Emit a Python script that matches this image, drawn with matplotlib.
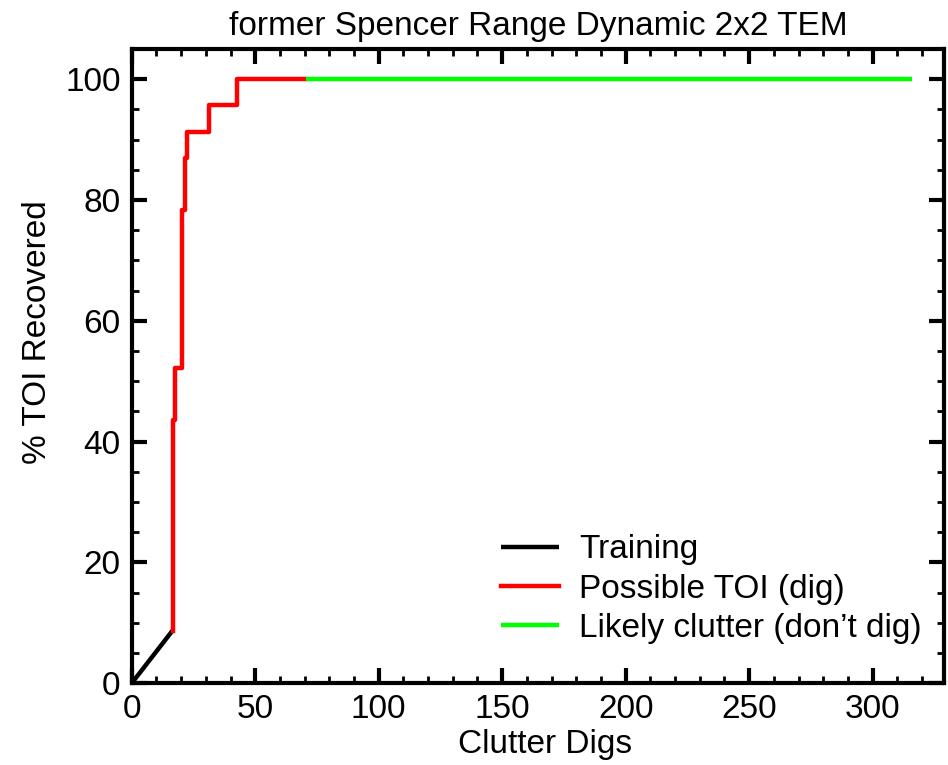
import matplotlib
matplotlib.use("Agg")
import matplotlib.pyplot as plt
from matplotlib.ticker import MultipleLocator

plt.rcParams['font.family'] = ['Liberation Sans', 'DejaVu Sans']

train_x = [0, 16.5]
train_y = [0, 8.7]
toi_x = [16.5, 16.5, 17.4, 20.4, 21.6, 22.3, 31.3, 42.7, 70.4]
toi_y = [8.7, 43.5, 52.2, 78.3, 87.0, 91.3, 95.7, 100.0, 100.0]
clutter_x = [70.4, 316]
clutter_y = [100.0, 100.0]

fig = plt.figure(figsize=(9.48, 7.65), dpi=100)
ax = fig.add_axes([0.139, 0.107, 0.857, 0.829])

ax.plot(train_x, train_y, color='black', lw=3.2, label='Training', solid_capstyle='butt')
ax.plot(toi_x, toi_y, color='#ff0000', lw=3.2, drawstyle='steps-post', label='Possible TOI (dig)')
ax.plot(clutter_x, clutter_y, color='#00ff00', lw=3.2, label='Likely clutter (don\u2019t dig)', solid_capstyle='butt')

ax.set_xlim(0, 329)
ax.set_ylim(0, 105)
ax.xaxis.set_major_locator(MultipleLocator(50))
ax.xaxis.set_minor_locator(MultipleLocator(10))
ax.yaxis.set_major_locator(MultipleLocator(20))
ax.yaxis.set_minor_locator(MultipleLocator(5))
ax.tick_params(which='both', direction='in', top=True, right=True, labelsize=24, colors='black')
ax.tick_params(which='major', length=11, width=3, pad=8)
ax.tick_params(which='minor', length=5, width=2)
for s in ax.spines.values():
    s.set_linewidth(3)

ax.set_title('former Spencer Range Dynamic 2x2 TEM', fontsize=24, pad=10)
ax.set_xlabel('Clutter Digs', fontsize=24, labelpad=3, x=0.509)
ax.set_ylabel('% TOI Recovered', fontsize=24, labelpad=9, y=0.554)

leg = ax.legend(loc='lower right', frameon=False, fontsize=24, handlelength=1.75,
                handletextpad=0.6, labelspacing=0.25, borderaxespad=0.2,
                bbox_to_anchor=(0.997, 0.03))

fig.savefig('out.png', dpi=100)
